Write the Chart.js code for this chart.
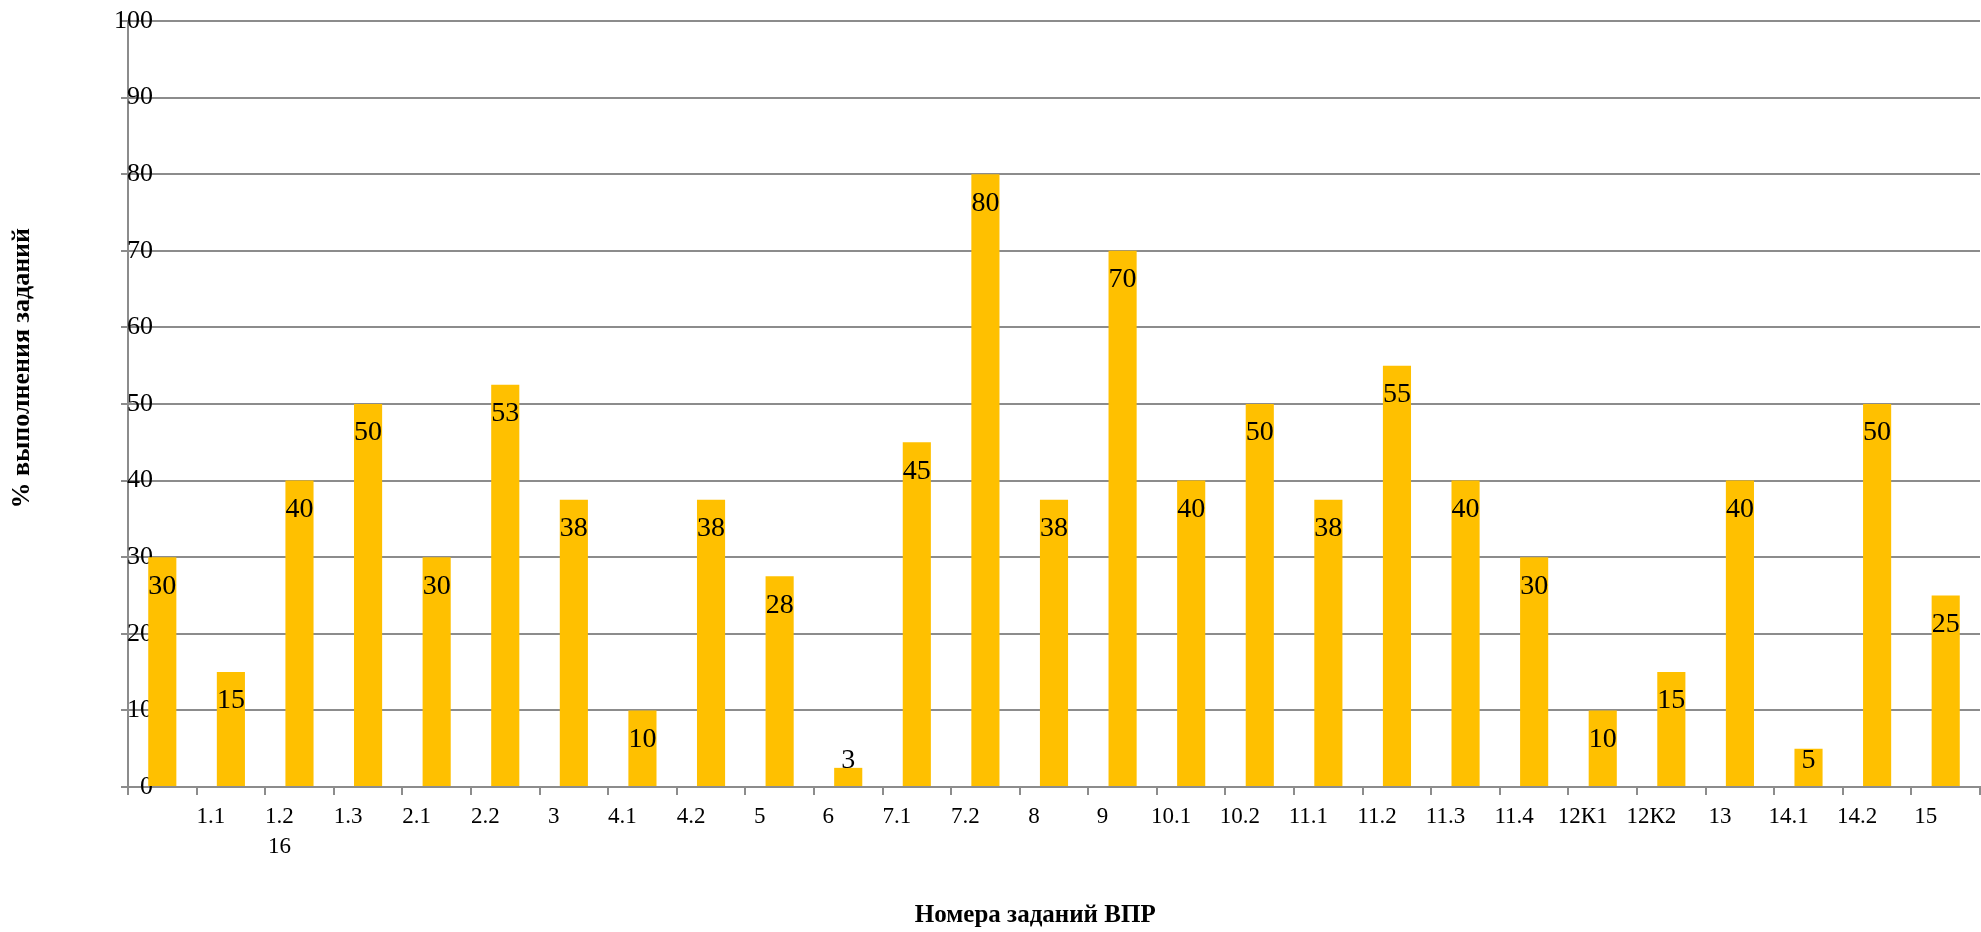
<!DOCTYPE html>
<html>
<head>
<meta charset="utf-8">
<script src="https://cdn.jsdelivr.net/npm/chart.js@4/dist/chart.umd.min.js"></script>
<style>
  body { margin: 0; background: #fff; }
  #wrap { width: 1981px; height: 932px; }
</style>
</head>
<body>
<div id="wrap"><canvas id="myChart"></canvas></div>
<script>
// data
// first slot has no label, last bar has no label (like the original)
const taskLabels = ['', '1.1', ['1.2', '16'], '1.3', '2.1', '2.2', '3', '4.1', '4.2', '5', '6', '7.1', '7.2', '8', '9',
  '10.1', '10.2', '11.1', '11.2', '11.3', '11.4', '12К1', '12К2', '13', '14.1', '14.2', '15']
const percentDone = [30, 15, 40, 50, 30, 52.5, 37.5, 10, 37.5, 27.5, 2.5, 45, 80, 37.5, 70,
  40, 50, 37.5, 55, 40, 30, 10, 15, 40, 5, 50, 25]
const yTicks = [0, 10, 20, 30, 40, 50, 60, 70, 80, 90, 100]

const barColor = '#FFC000'
const gridColor = '#8c8c8c'
const serif = "'Liberation Serif', 'Times New Roman', serif"

// numbers on the bars (no datalabels plugin here, so draw by hand)
const barNumbers = {
  id: 'barNumbers',
  afterDatasetsDraw(chart) {
    let ctx = chart.ctx
    let meta = chart.getDatasetMeta(0)
    ctx.save()
    ctx.font = '28px ' + serif
    ctx.fillStyle = '#000'
    ctx.textAlign = 'center'
    ctx.textBaseline = 'middle'
    meta.data.forEach((bar, i) => {
      // inside the top of the bar, pushed up for the short ones
      let y = Math.min(bar.y + 29, bar.base - 25)
      ctx.fillText(Math.round(percentDone[i]), bar.x, y)
    })
    ctx.restore()
  }
}

new Chart('myChart', {
  type: 'bar',
  data: {
    labels: taskLabels,
    datasets: [{
      data: percentDone,
      backgroundColor: barColor,
      barPercentage: 1,
      categoryPercentage: 0.41
    }]
  },
  options: {
    responsive: true,
    maintainAspectRatio: false,
    animation: false,
    layout: { padding: { top: 21, right: 1, left: 0, bottom: 0 } },
    plugins: {
      legend: { display: false },
      title: { display: false },
      tooltip: { enabled: false }
    },
    scales: {
      x: {
        offset: true,
        grid: {
          offset: true,
          drawOnChartArea: false,
          drawTicks: true,
          tickLength: 8,
          color: gridColor,
          lineWidth: 2
        },
        border: { color: gridColor, width: 2 },
        ticks: {
          autoSkip: false,
          maxRotation: 0,
          minRotation: 0,
          labelOffset: -20,
          padding: 7,
          color: '#000',
          font: { family: serif, size: 23, lineHeight: 1.3 }
        },
        title: {
          display: true,
          // trailing spaces nudge it left like the original
          text: 'Номера заданий ВПР      ',
          color: '#000',
          font: { family: serif, size: 25, weight: 'bold' },
          padding: { top: 0, bottom: 1 }
        },
        afterFit(scale) { scale.height = 145 }
      },
      y: {
        min: 0,
        max: 100,
        afterBuildTicks(scale) { scale.ticks = yTicks.map(v => ({ value: v })) },
        grid: {
          color: gridColor,
          lineWidth: 2,
          tickLength: 7
        },
        border: { color: gridColor, width: 2 },
        ticks: {
          // labels sit over the axis line in the original, mirror stops the clipping
          mirror: true,
          crossAlign: 'far',
          padding: -14,
          color: '#000',
          font: { family: serif, size: 26 }
        },
        title: {
          display: true,
          // leading spaces push it up a bit, the original is above centre
          text: '           % выполнения заданий',
          color: '#000',
          font: { family: serif, size: 26, weight: 'bold' },
          padding: { top: 7, bottom: 0 }
        },
        afterFit(scale) { scale.width = 128 }
      }
    }
  },
  plugins: [barNumbers]
})
</script>
</body>
</html>
